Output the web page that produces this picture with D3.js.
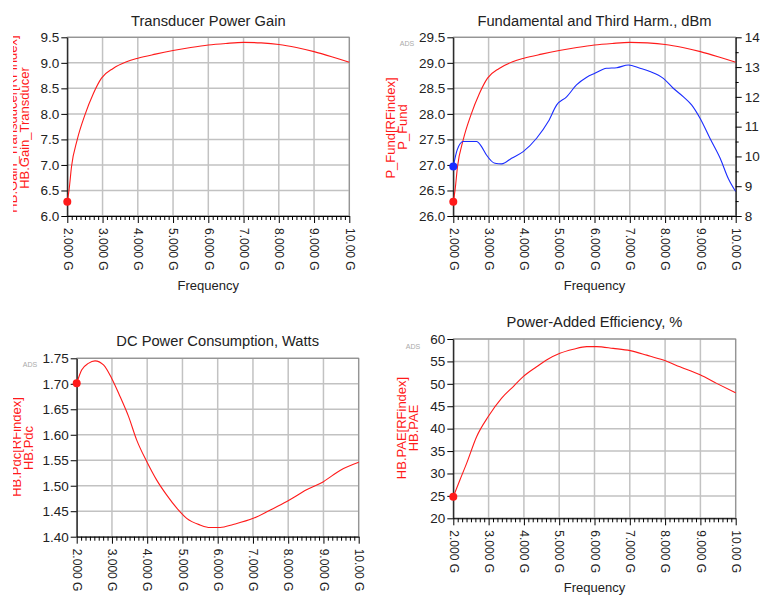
<!DOCTYPE html>
<html>
<head>
<meta charset="utf-8">
<script src="https://cdn.jsdelivr.net/npm/d3@7"></script>
<style>
  body { margin: 0; background: #fff; }
  svg { display: block; }
  text { font-family: "Liberation Sans", Arial, sans-serif; }
</style>
</head>
<body>
<svg id="chart" width="764" height="604"></svg>
<script>
// frequency ticks (GHz) and their labels
const xTicks = [2, 3, 4, 5, 6, 7, 8, 9, 10];
const xTickLabels = ['2.000 G', '3.000 G', '4.000 G', '5.000 G', '6.000 G', '7.000 G', '8.000 G', '9.000 G', '10.00 G'];

// transducer gain (dB) and fundamental output power (dBm)
const freqGain = [2.0, 2.05, 2.12, 2.28, 2.5, 2.74, 2.97, 3.3, 3.68, 4.0, 4.5, 5.0, 5.5, 6.0, 6.5, 7.0, 7.5, 8.0, 8.5, 9.0, 9.5, 10.0];
const gain = [6.28, 6.51, 6.97, 7.49, 7.98, 8.40, 8.70, 8.89, 9.02, 9.09, 9.17, 9.24, 9.30, 9.35, 9.38, 9.40, 9.39, 9.36, 9.30, 9.22, 9.12, 9.01];
const pFund = [26.28, 26.51, 26.97, 27.49, 27.98, 28.40, 28.70, 28.89, 29.02, 29.09, 29.17, 29.24, 29.30, 29.35, 29.38, 29.40, 29.39, 29.36, 29.30, 29.22, 29.12, 29.01];

// third harmonic (right axis)
const freqH3 = [2.0, 2.11, 2.28, 2.66, 2.80, 2.94, 3.18, 3.37, 3.65, 3.98, 4.36, 4.69, 4.93, 5.21, 5.49, 5.78, 6.01, 6.34, 6.63, 6.96, 7.29, 7.57, 7.95, 8.23, 8.52, 8.75, 8.99, 9.27, 9.56, 9.79, 10.0];
const pThird = [9.66, 10.22, 10.50, 10.50, 10.33, 10.05, 9.77, 9.75, 9.94, 10.16, 10.61, 11.17, 11.73, 12.0, 12.40, 12.66, 12.79, 12.96, 12.98, 13.07, 12.96, 12.85, 12.62, 12.29, 12.0, 11.73, 11.28, 10.61, 9.94, 9.26, 8.82];

// DC power (W)
const freqDc = [2.0, 2.14, 2.33, 2.52, 2.76, 2.99, 3.23, 3.47, 3.70, 3.99, 4.27, 4.55, 4.84, 5.12, 5.50, 5.78, 6.07, 6.44, 7.01, 7.48, 7.96, 8.52, 9.0, 9.47, 10.0];
const pdc = [1.701, 1.727, 1.740, 1.745, 1.737, 1.711, 1.675, 1.636, 1.590, 1.547, 1.511, 1.482, 1.456, 1.436, 1.423, 1.418, 1.418, 1.424, 1.436, 1.452, 1.469, 1.492, 1.508, 1.530, 1.546];

// power-added efficiency (%)
const freqPae = [2.0, 2.19, 2.38, 2.66, 2.99, 3.37, 3.70, 3.98, 4.36, 4.64, 5.02, 5.40, 5.78, 6.06, 6.53, 7.01, 7.48, 7.95, 8.42, 8.99, 9.46, 10.0];
const pae = [24.8, 28.6, 32.3, 38.2, 42.7, 46.8, 49.4, 51.6, 53.8, 55.3, 56.8, 57.7, 58.3, 58.3, 57.9, 57.4, 56.4, 55.3, 53.8, 52.0, 50.1, 48.0];

const gainTicks = [6.0, 6.5, 7.0, 7.5, 8.0, 8.5, 9.0, 9.5];
const fundTicks = [26.0, 26.5, 27.0, 27.5, 28.0, 28.5, 29.0, 29.5];
const thirdTicks = [8, 9, 10, 11, 12, 13, 14];
const dcTicks = [1.40, 1.45, 1.50, 1.55, 1.60, 1.65, 1.70, 1.75];
const paeTicks = [20, 25, 30, 35, 40, 45, 50, 55, 60];

const RED = '#ff1a1a';
const BLUE = '#1a2cff';
const TXT = '#222';

const svg = d3.select('#chart');
let clipId = 0;

function drawPanel(p) {
  const x = d3.scaleLinear().domain([2, 10]).range([p.left, p.right]);
  const y = d3.scaleLinear().domain(p.yDomain).range([p.bottom, p.top]);
  const g = svg.append('g');

  // grid
  g.selectAll('.vgrid').data(xTicks).enter().append('line')
    .attr('x1', d => x(d)).attr('x2', d => x(d))
    .attr('y1', p.top).attr('y2', p.bottom)
    .attr('stroke', '#c2c2c2').attr('stroke-width', 1.5);
  g.selectAll('.hgrid').data(p.yTicks).enter().append('line')
    .attr('x1', p.left).attr('x2', p.right)
    .attr('y1', d => y(d)).attr('y2', d => y(d))
    .attr('stroke', '#c2c2c2').attr('stroke-width', 1.5);

  g.append('rect')
    .attr('x', p.left).attr('y', p.top)
    .attr('width', p.right - p.left).attr('height', p.bottom - p.top)
    .attr('fill', 'none').attr('stroke', '#8a8a8a').attr('stroke-width', 1);

  // x axis: minor ticks, then major ticks with rotated labels
  const minor = d3.range(2, 10.001, 0.125).filter(v => Math.abs(v - Math.round(v)) > 1e-6);
  g.append('g').attr('transform', `translate(0,${p.bottom})`)
    .call(d3.axisBottom(x).tickValues(minor).tickSize(4).tickFormat(''))
    .call(a => a.select('.domain').remove())
    .selectAll('line').attr('stroke', '#000');

  const xa = g.append('g').attr('transform', `translate(0,${p.bottom})`)
    .call(d3.axisBottom(x).tickValues(xTicks).tickSize(7).tickSizeOuter(0)
      .tickFormat((d, i) => xTickLabels[i]));
  xa.select('.domain').attr('stroke', '#000');
  xa.selectAll('line').attr('stroke', '#000');
  xa.selectAll('text')
    .attr('transform', 'rotate(90)')
    .attr('x', 12).attr('y', 0).attr('dy', '0.35em')
    .style('text-anchor', 'start')
    .attr('fill', TXT).style('font-size', '12px');

  // left y axis
  const ya = g.append('g').attr('transform', `translate(${p.left},0)`)
    .call(d3.axisLeft(y).tickValues(p.yTicks).tickSize(6).tickSizeOuter(0).tickPadding(2)
      .tickFormat(p.yFormat));
  ya.select('.domain').attr('stroke', '#000');
  ya.selectAll('line').attr('stroke', '#000');
  ya.selectAll('text').attr('fill', TXT).style('font-size', '13.5px');

  // titles
  g.append('text').attr('x', (p.left + p.right) / 2).attr('y', p.titleY)
    .attr('text-anchor', 'middle').attr('fill', TXT).style('font-size', '14.7px')
    .text(p.title);
  g.append('text').attr('x', (p.left + p.right) / 2).attr('y', p.freqY)
    .attr('text-anchor', 'middle').attr('fill', TXT).style('font-size', '13px')
    .text('Frequency');

  if (p.ads) {
    g.append('text').attr('x', p.ads[0]).attr('y', p.ads[1])
      .attr('text-anchor', 'middle').attr('fill', '#aaa').style('font-size', '7px')
      .text('ADS');
  }

  // y axis labels (stacked, rotated); the outer one is partly cut off in the original
  p.yLabels.forEach(l => {
    let holder = g;
    if (l.clip !== undefined) {
      const id = 'clip' + (clipId++);
      svg.append('clipPath').attr('id', id).append('rect')
        .attr('x', l.clip).attr('y', 0).attr('width', 200).attr('height', 604);
      holder = g.append('g').attr('clip-path', `url(#${id})`);
    }
    holder.append('text')
      .attr('transform', `translate(${l.x},${l.y}) rotate(-90)`)
      .attr('text-anchor', 'middle').attr('dy', '0.35em')
      .attr('fill', RED).style('font-size', '13px')
      .text(l.text);
  });

  // series
  p.series.forEach(s => {
    const ys = s.scale === 'right' ? p.y2 : y;
    const pts = s.x.map((f, i) => [f, s.y[i]]);
    const line = d3.line().x(d => x(d[0])).y(d => ys(d[1])).curve(d3.curveMonotoneX);
    g.append('path').attr('d', line(pts))
      .attr('fill', 'none').attr('stroke', s.color).attr('stroke-width', 1.1);
    g.append('circle').attr('cx', x(pts[0][0])).attr('cy', ys(pts[0][1]))
      .attr('r', 4).attr('fill', s.color);
  });

  return { x, y, g };
}

// panel 1
drawPanel({
  left: 67.3, right: 349.3, top: 37.3, bottom: 216,
  yDomain: [6, 9.5], yTicks: gainTicks, yFormat: d3.format('.1f'),
  title: 'Transducer Power Gain', titleY: 26, freqY: 290,
  yLabels: [
    { text: 'HB.Gain_Transducer[RFindex]', x: 12, y: 124, clip: 13 },
    { text: 'HB.Gain_Transducer', x: 24.5, y: 128 }
  ],
  series: [{ x: freqGain, y: gain, color: RED }]
});

// panel 2 with a right axis for the third harmonic
const y2 = d3.scaleLinear().domain([8, 14]).range([216, 37.3]);
const p2 = drawPanel({
  left: 453.3, right: 735.7, top: 37.3, bottom: 216,
  yDomain: [26, 29.5], yTicks: fundTicks, yFormat: d3.format('.1f'),
  title: 'Fundamental and Third Harm., dBm', titleY: 26, freqY: 290,
  ads: [407, 46],
  y2: y2,
  yLabels: [
    { text: 'P_Fund[RFindex]', x: 390, y: 128 },
    { text: 'P_Fund', x: 402, y: 127 }
  ],
  series: [
    { x: freqGain, y: pFund, color: RED },
    { x: freqH3, y: pThird, color: BLUE, scale: 'right' }
  ]
});
const ra = p2.g.append('g').attr('transform', 'translate(735.7,0)')
  .call(d3.axisRight(y2).tickValues(thirdTicks).tickSize(6).tickSizeOuter(0).tickPadding(3)
    .tickFormat(d3.format('d')));
ra.select('.domain').attr('stroke', '#000');
ra.selectAll('line').attr('stroke', '#000');
ra.selectAll('text').attr('fill', TXT).style('font-size', '13.5px');
p2.g.append('g').attr('transform', 'translate(735.7,0)')
  .call(d3.axisRight(y2).tickValues(d3.range(8.5, 14, 1)).tickSize(3).tickFormat(''))
  .call(a => a.select('.domain').remove())
  .selectAll('line').attr('stroke', '#000');

// panel 3
drawPanel({
  left: 76.7, right: 358.7, top: 358.3, bottom: 536.7,
  yDomain: [1.40, 1.75], yTicks: dcTicks, yFormat: d3.format('.2f'),
  title: 'DC Power Consumption, Watts', titleY: 346, freqY: 614,
  ads: [30, 367],
  yLabels: [
    { text: 'HB.Pdc[RFindex]', x: 16, y: 447, clip: 13 },
    { text: 'HB.Pdc', x: 28, y: 448 }
  ],
  series: [{ x: freqDc, y: pdc, color: RED }]
});

// panel 4
drawPanel({
  left: 453.3, right: 735.7, top: 339, bottom: 518.3,
  yDomain: [20, 60], yTicks: paeTicks, yFormat: d3.format('d'),
  title: 'Power-Added Efficiency, %', titleY: 327, freqY: 592,
  ads: [413, 349],
  yLabels: [
    { text: 'HB.PAE[RFindex]', x: 401, y: 428 },
    { text: 'HB.PAE', x: 413, y: 428 }
  ],
  series: [{ x: freqPae, y: pae, color: RED }]
});
</script>
</body>
</html>
